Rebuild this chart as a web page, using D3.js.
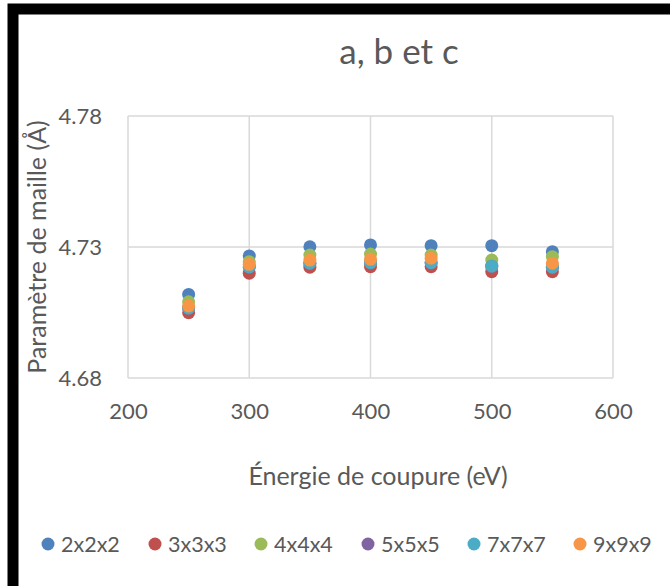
<!DOCTYPE html>
<html>
<head>
<meta charset="utf-8">
<script src="https://cdn.jsdelivr.net/npm/d3@7"></script>
<style>
  body { margin: 0; background: #fff; }
  text { font-family: Lato, "Open Sans", sans-serif; fill: #595959; }
</style>
</head>
<body>
<div id="chart"></div>
<script>
// energies de coupure (eV)
const energies = [250, 300, 350, 400, 450, 500, 550];

const series = ["2x2x2", "3x3x3", "4x4x4", "5x5x5", "7x7x7", "9x9x9"];
const couleurs = ["#4f81bd", "#c0504d", "#9bbb59", "#8064a2", "#4bacc6", "#f79646"];

// parametre de maille par maillage k (null = pas de point)
const v2x2x2 = [4.7119, 4.7266, 4.7301, 4.7308, 4.7305, 4.7305, 4.7282];
const v3x3x3 = [4.7049, 4.7200, 4.7223, 4.7225, 4.7225, 4.7206, 4.7206];
const v4x4x4 = [4.7091, 4.7244, 4.7269, 4.7273, 4.7269, 4.7250, 4.7263];
const v5x5x5 = [4.7067, 4.7224, 4.7238, 4.7240, 4.7240, 4.7227, 4.7223];
const v7x7x7 = [4.7067, 4.7224, 4.7238, 4.7240, 4.7240, 4.7227, 4.7223];
const v9x9x9 = [4.7075, 4.7234, 4.7250, 4.7253, 4.7257, null, 4.7238];
const valeurs = [v2x2x2, v3x3x3, v4x4x4, v5x5x5, v7x7x7, v9x9x9];

const xTicks = [200, 300, 400, 500, 600];
const yTicks = [4.68, 4.73, 4.78];

const width = 670, height = 586;

const svg = d3.select("#chart").append("svg")
  .attr("width", width)
  .attr("height", height);

// cadre noir
svg.append("rect")
  .attr("x", 13).attr("y", 9)
  .attr("width", 680).attr("height", 590)
  .attr("fill", "#fff")
  .attr("stroke", "#000")
  .attr("stroke-width", 11);

const x = d3.scaleLinear().domain([200, 600]).range([128, 613]);
const y = d3.scaleLinear().domain([4.68, 4.78]).range([378, 116]);

// grille
const grille = svg.append("g");
grille.selectAll(".gx").data(xTicks).join("line")
  .attr("x1", d => x(d)).attr("x2", d => x(d))
  .attr("y1", y(4.78)).attr("y2", y(4.68))
  .attr("stroke", "#d9d9d9").attr("stroke-width", 1.5);
grille.selectAll(".gy").data(yTicks).join("line")
  .attr("x1", x(200)).attr("x2", x(600))
  .attr("y1", d => y(d)).attr("y2", d => y(d))
  .attr("stroke", "#d9d9d9").attr("stroke-width", 1.5);

// axes
const axeX = svg.append("g")
  .attr("transform", `translate(0,${y(4.68)})`)
  .call(d3.axisBottom(x).tickValues(xTicks).tickSize(0).tickPadding(25));
const axeY = svg.append("g")
  .attr("transform", `translate(${x(200)},0)`)
  .call(d3.axisLeft(y).tickValues(yTicks).tickFormat(d3.format(".2f")).tickSize(0).tickPadding(26));
[axeX, axeY].forEach(a => {
  a.select(".domain").remove();
  a.selectAll("text").style("font-size", "22px").attr("fill", "#595959");
});

// points
valeurs.forEach((vals, i) => {
  svg.append("g").selectAll("circle")
    .data(energies.map((e, j) => ({ e, v: vals[j] })).filter(d => d.v != null))
    .join("circle")
    .attr("cx", d => x(d.e))
    .attr("cy", d => y(d.v))
    .attr("r", 6.5)
    .attr("fill", couleurs[i]);
});

// titres
svg.append("text")
  .attr("x", 399).attr("y", 64)
  .attr("text-anchor", "middle")
  .style("font-size", "35px")
  .text("a, b et c");

svg.append("text")
  .attr("x", 378).attr("y", 485)
  .attr("text-anchor", "middle")
  .style("font-size", "25px")
  .text("Énergie de coupure (eV)");

svg.append("text")
  .attr("transform", `translate(46,${(y(4.68) + y(4.78)) / 2}) rotate(-90)`)
  .attr("text-anchor", "middle")
  .style("font-size", "25px")
  .text("Paramètre de maille (Å)");

// legende
const legendeX = [48, 155, 261, 368, 474, 580];
const legende = svg.append("g");
series.forEach((s, i) => {
  legende.append("circle")
    .attr("cx", legendeX[i]).attr("cy", 544).attr("r", 6.5)
    .attr("fill", couleurs[i]);
  legende.append("text")
    .attr("x", legendeX[i] + 13).attr("y", 551.5)
    .style("font-size", "21.5px")
    .text(s);
});
</script>
</body>
</html>
